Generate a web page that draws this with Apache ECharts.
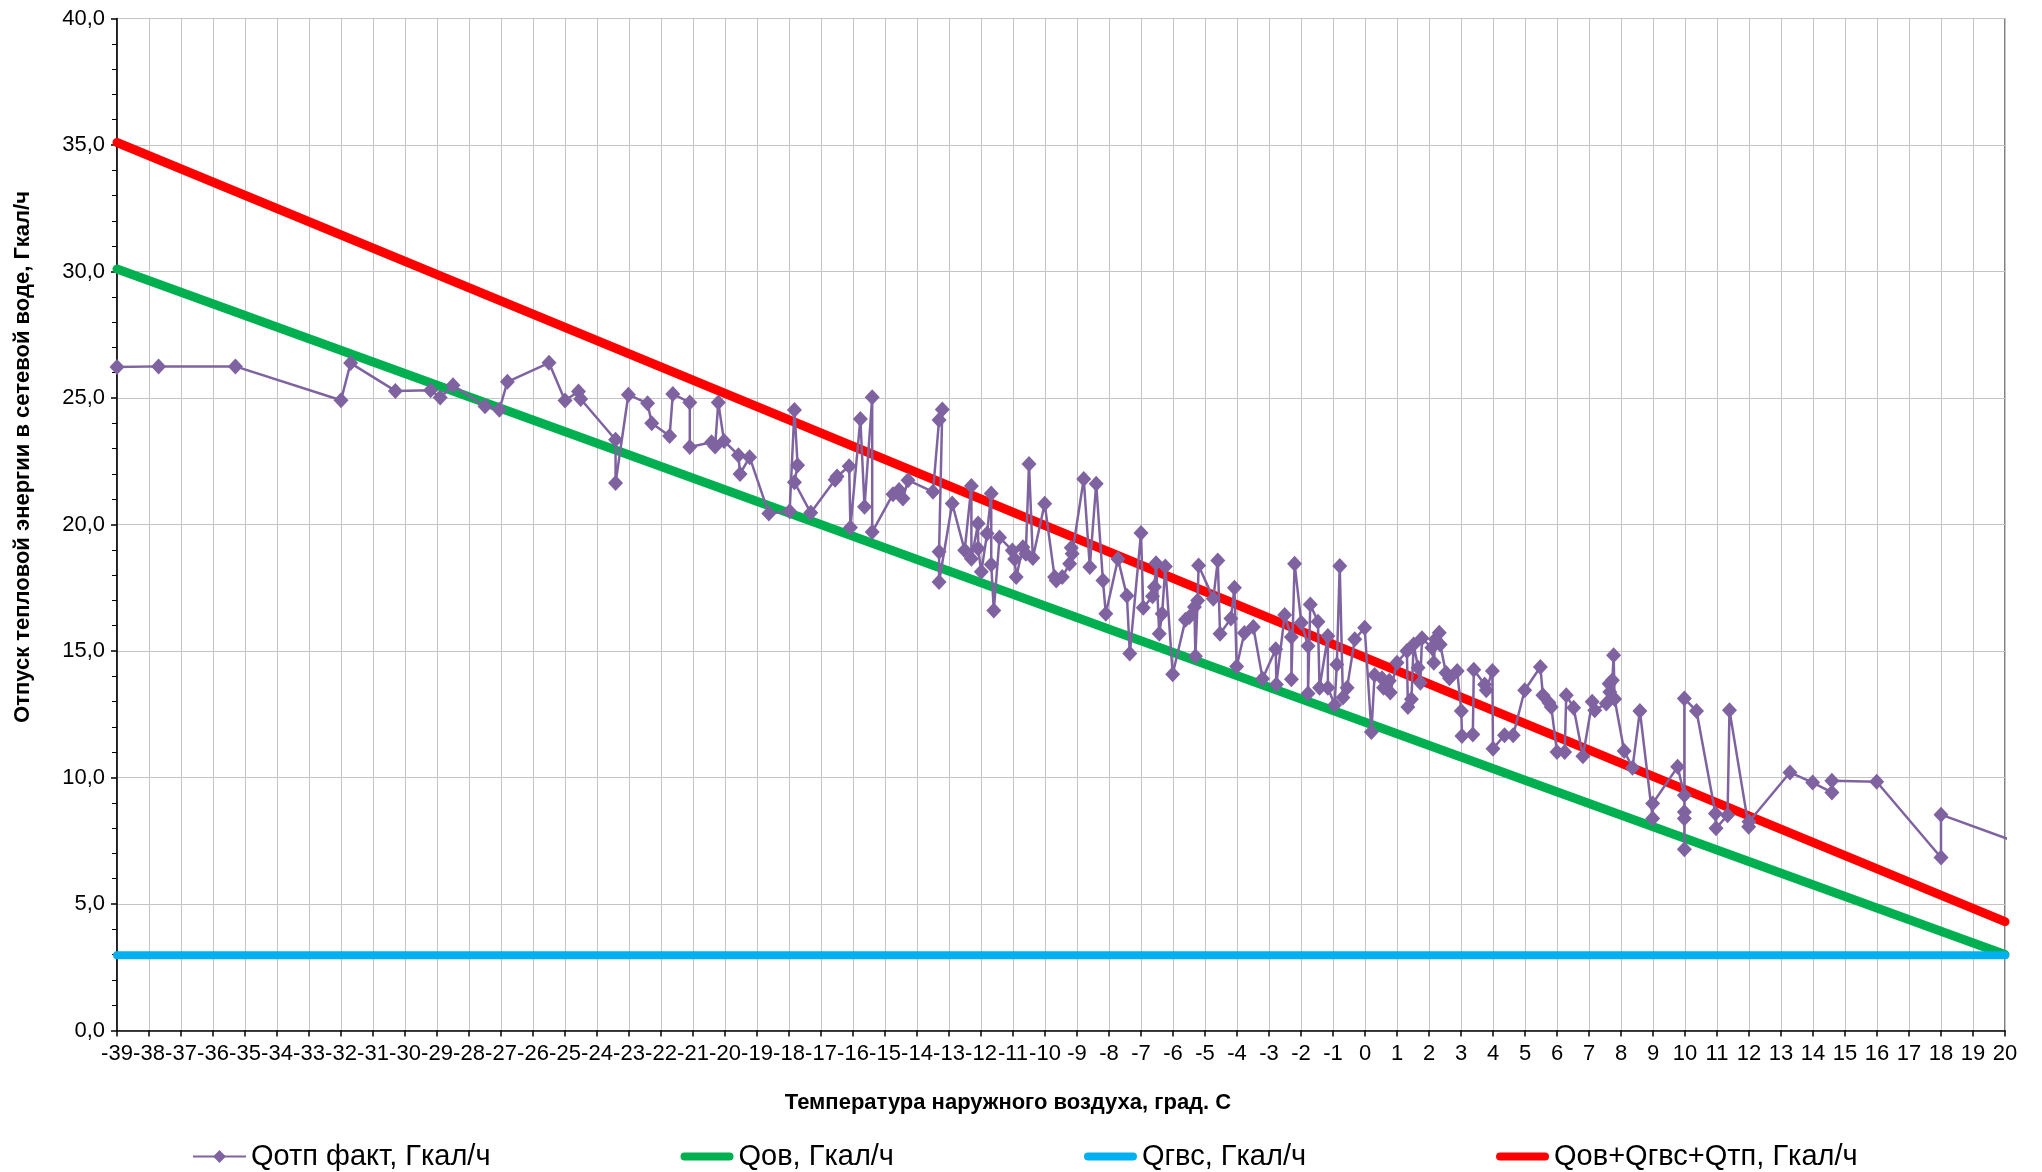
<!DOCTYPE html>
<html><head><meta charset="utf-8">
<script src="https://cdn.jsdelivr.net/npm/echarts@6/dist/echarts.min.js"></script>
<style>html,body{margin:0;padding:0;background:#fff}#c{width:2042px;height:1172px}</style>
</head><body><div id="c"></div>
<script>
// ---- data ----
const seriesNames = ['Qотп факт, Гкал/ч', 'Qов, Гкал/ч', 'Qгвс, Гкал/ч', 'Qов+Qгвс+Qтп, Гкал/ч'];
const xTitle = 'Температура наружного воздуха, град. С';
const yTitle = 'Отпуск тепловой энергии в сетевой воде, Гкал/ч';
const tempMin = -39, tempMax = 20;
const qMin = 0, qMax = 40, qStep = 5;

// [outdoor temperature, heat output]
const qFactPoints = [
  [-39.0,26.23],[-37.7,26.25],[-35.3,26.25],[-32.0,24.91],[-31.7,26.38],[-30.3,25.28],[-29.2,25.31],
  [-28.9,25.02],[-28.5,25.5],[-27.5,24.67],[-27.05,24.54],[-26.8,25.64],[-25.5,26.39],[-25.0,24.9],
  [-24.58,25.26],[-24.51,24.96],[-23.42,23.35],[-23.42,21.64],[-23.02,25.13],[-22.42,24.79],[-22.29,24.0],
  [-21.73,23.5],[-21.63,25.16],[-21.1,24.82],[-21.1,23.06],[-20.42,23.25],[-20.31,23.08],[-20.21,24.82],
  [-20.03,23.3],[-19.58,22.74],[-19.53,22.0],[-19.23,22.66],[-18.63,20.43],[-17.98,20.52],[-17.83,24.53],
  [-17.73,22.34],[-17.83,21.67],[-17.32,20.46],[-16.56,21.77],[-16.5,21.9],[-16.12,22.3],[-16.08,19.88],
  [-15.77,24.17],[-15.64,20.7],[-15.4,25.03],[-15.4,19.7],[-14.75,21.2],[-14.56,21.36],[-14.44,21.03],
  [-14.28,21.75],[-13.5,21.29],[-13.31,24.13],[-13.21,24.55],[-13.31,18.92],[-13.31,17.73],[-12.9,20.83],
  [-12.51,18.98],[-12.3,21.52],[-12.3,18.65],[-12.09,20.04],[-12.09,19.05],[-11.99,18.13],[-11.81,19.64],
  [-11.68,21.23],[-11.68,18.42],[-11.6,16.6],[-11.42,19.49],[-11.02,18.97],[-10.95,18.64],[-10.9,17.92],
  [-10.69,19.1],[-10.6,18.84],[-10.5,22.39],[-10.38,18.68],[-10.01,20.82],[-9.7,17.92],[-9.65,17.79],
  [-9.46,17.92],[-9.23,18.45],[-9.18,19.08],[-9.15,18.84],[-8.79,21.8],[-8.6,18.32],[-8.4,21.61],
  [-8.19,17.79],[-8.1,16.47],[-7.72,18.64],[-7.44,17.18],[-7.35,14.9],[-7.0,19.66],[-6.93,16.71],
  [-6.64,17.16],[-6.58,17.53],[-6.53,18.47],[-6.43,15.68],[-6.34,16.47],[-6.24,18.34],[-6.01,14.08],
  [-5.61,16.24],[-5.49,16.34],[-5.33,16.74],[-5.3,14.79],[-5.23,17.0],[-5.2,18.38],[-4.74,17.07],
  [-4.6,18.58],[-4.53,15.68],[-4.19,16.28],[-4.08,17.5],[-4.01,14.39],[-3.77,15.71],[-3.49,15.95],
  [-3.2,13.9],[-2.79,15.07],[-2.77,13.68],[-2.51,16.42],[-2.3,15.55],[-2.3,13.88],[-2.2,18.45],
  [-1.99,16.12],[-1.78,15.2],[-1.78,13.32],[-1.71,16.84],[-1.47,16.16],[-1.42,13.55],[-1.16,15.59],
  [-1.16,13.55],[-0.95,12.87],[-0.88,14.47],[-0.79,18.36],[-0.69,13.16],[-0.56,13.55],[-0.32,15.46],
  [-0.01,15.92],[0.2,11.8],[0.3,14.05],[0.53,13.92],[0.58,13.55],[0.76,13.82],[0.79,13.36],[1.0,14.54],
  [1.31,15.0],[1.34,12.79],[1.45,13.09],[1.52,15.26],[1.66,14.34],[1.73,13.75],[1.78,15.5],[2.09,15.13],
  [2.15,14.54],[2.2,15.46],[2.32,15.72],[2.35,15.26],[2.53,14.14],[2.64,13.92],[2.88,14.21],[3.01,12.63],
  [3.03,11.64],[3.37,11.7],[3.4,14.26],[3.74,13.68],[3.79,13.45],[3.98,14.21],[4.0,11.14],[4.36,11.67],
  [4.63,11.67],[4.99,13.45],[5.48,14.37],[5.56,13.25],[5.75,12.95],[5.82,12.79],[6.0,11.01],[6.24,11.01],
  [6.29,13.25],[6.52,12.76],[6.81,10.84],[7.1,12.99],[7.18,12.66],[7.54,12.92],[7.63,13.71],[7.65,13.38],
  [7.73,13.84],[7.77,14.83],[7.8,13.1],[8.1,11.05],[8.36,10.39],[8.59,12.63],[8.99,8.38],[8.99,8.97],
  [9.77,10.42],[9.98,9.3],[9.98,8.64],[9.98,8.38],[9.98,7.16],[9.98,13.12],[10.36,12.63],[10.95,8.58],
  [10.97,7.99],[11.33,8.51],[11.39,12.66],[11.99,8.05],[12.0,8.25],[13.28,10.2],[13.99,9.8],[14.59,9.41],
  [14.59,9.87],[15.99,9.83],[18.0,6.84],[18.0,8.53],[22.0,6.7]
];
const qovTemps = [-39, 20];
const qovValues = [30.1, 3.0];
const qgvsTemps = [-39, 20];
const qgvsValues = [2.97, 2.97];
const qsumTemps = [-39, 20];
const qsumValues = [35.1, 4.3];

// ---- chart ----
const FONT = '"Liberation Sans", Arial, sans-serif';
const BAR_ICON = 'path://M4,0 L49,0 A4,4 0 0 1 49,8 L4,8 A4,4 0 0 1 4,0 Z';
const zip = (xs, ys) => xs.map((x, i) => [x, ys[i]]);
const chart = echarts.init(document.getElementById('c'), null, {renderer: 'canvas'});
const option = {
  backgroundColor: '#ffffff',
  animation: false,
  textStyle: {fontFamily: FONT, color: '#000'},
  grid: {left: 117, right: 37, top: 18.5, bottom: 141.5, containLabel: false,
         show: true, borderColor: '#000', borderWidth: 1, backgroundColor: 'transparent'},
  xAxis: {
    type: 'value', min: tempMin, max: tempMax, interval: 1,
    axisLine: {show: true, onZero: false, lineStyle: {color: '#000', width: 1.5}},
    axisTick: {show: true, inside: false, length: 6, lineStyle: {color: '#000', width: 1.5}},
    axisLabel: {fontSize: 22, fontFamily: FONT, color: '#000', margin: 12,
                formatter: v => String(Math.round(v))},
    splitLine: {show: true, lineStyle: {color: '#c4c4c4', width: 1}}
  },
  yAxis: {
    type: 'value', min: qMin, max: qMax, interval: qStep,
    axisLine: {show: true, onZero: false, lineStyle: {color: '#000', width: 1.5}},
    axisTick: {show: true, inside: false, length: 6, lineStyle: {color: '#000', width: 1.5}},
    minorTick: {show: true, splitNumber: 5, length: 5, lineStyle: {color: '#000', width: 1}},
    axisLabel: {fontSize: 22, fontFamily: FONT, color: '#000', margin: 12,
                formatter: v => v.toFixed(1).replace('.', ',')},
    splitLine: {show: true, lineStyle: {color: '#c4c4c4', width: 1}}
  },
  legend: {
    show: true, left: 187, top: 1137, orient: 'horizontal',
    itemWidth: 53, itemHeight: 16, itemGap: 190, symbolKeepAspect: true,
    textStyle: {fontSize: 29, fontFamily: FONT, color: '#000'},
    data: [
      {name: seriesNames[0]},
      {name: seriesNames[1], icon: BAR_ICON},
      {name: seriesNames[2], icon: BAR_ICON},
      {name: seriesNames[3], icon: BAR_ICON}
    ]
  },
  graphic: [
    {type: 'text', x: 1008, y: 1103, style: {text: xTitle, fontSize: 22, fontWeight: 'bold',
      fontFamily: FONT, fill: '#000', align: 'center', verticalAlign: 'middle'}},
    {type: 'text', x: 23, y: 457, rotation: Math.PI / 2, style: {text: yTitle, fontSize: 22,
      fontWeight: 'bold', fontFamily: FONT, fill: '#000', align: 'center', verticalAlign: 'middle'}}
  ],
  series: [
    {name: seriesNames[0], type: 'line', data: qFactPoints, z: 5, clip: true,
     symbol: 'diamond', symbolSize: [15, 16], showSymbol: true,
     itemStyle: {color: '#7f63a1'}, lineStyle: {color: '#7f63a1', width: 2.5}},
    {name: seriesNames[1], type: 'line', data: zip(qovTemps, qovValues), z: 3, clip: true,
     symbol: 'none', itemStyle: {color: '#00b050'}, lineStyle: {color: '#00b050', width: 9, cap: 'round'}},
    {name: seriesNames[2], type: 'line', data: zip(qgvsTemps, qgvsValues), z: 3, clip: true,
     symbol: 'none', itemStyle: {color: '#00b0f0'}, lineStyle: {color: '#00b0f0', width: 8, cap: 'round'}},
    {name: seriesNames[3], type: 'line', data: zip(qsumTemps, qsumValues), z: 3, clip: true,
     symbol: 'none', itemStyle: {color: '#ff0000'}, lineStyle: {color: '#ff0000', width: 9, cap: 'round'}}
  ]
};
chart.setOption(option);
</script>
</body></html>
